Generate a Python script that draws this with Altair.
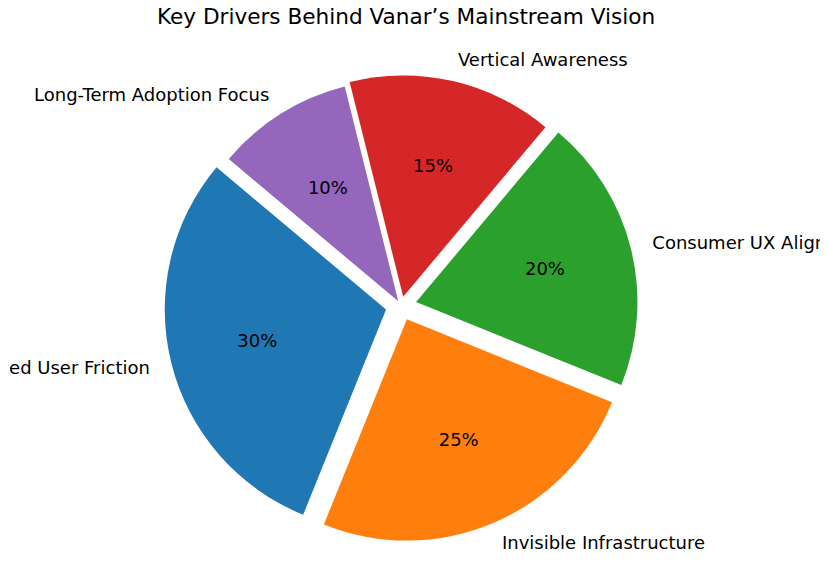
import altair as alt
import pandas as pd

labels = ["Reduced User Friction", "Invisible Infrastructure", "Consumer UX Alignment",
          "Vertical Awareness", "Long-Term Adoption Focus"]
values = [30, 25, 20, 15, 10]
colors = ["#1f77b4", "#ff7f0e", "#2ca02c", "#d62728", "#9467bd"]
order = [0, 1, 2, 3, 4]

# style: how far each slice is pulled out (fraction of radius)
explode = [0.07, 0.066, 0.07, 0.042, 0.024]

df = pd.DataFrame({"label": labels, "value": values, "order": order, "expl": explode})

# layout parameters (pixels in plot area)
CX, CY, R = 393.1, 257.8, 221.3
START = 140  # start angle (deg, ccw from east)

base = alt.Chart(df).transform_joinaggregate(
    total="sum(value)"
).transform_window(
    cum="sum(value)", sort=[alt.SortField("order")], frame=[None, 0]
).transform_calculate(
    t1=f"{START} + 360*(datum.cum - datum.value)/datum.total",
    t2=f"{START} + 360*datum.cum/datum.total",
).transform_calculate(
    tm="(datum.t1 + datum.t2)/2 * PI/180",
    a0="(90 - datum.t2) * PI/180",
    a1="(90 - datum.t1) * PI/180",
).transform_calculate(
    ox=f"{CX} + datum.expl*{R}*cos(datum.tm)",
    oy=f"{CY} - datum.expl*{R}*sin(datum.tm)",
).transform_calculate(
    lx=f"datum.ox + {1.1*R}*cos(datum.tm)",
    ly=f"datum.oy - {1.1*R}*sin(datum.tm) + 1",
    px=f"datum.ox + {0.6*R}*cos(datum.tm)",
    py=f"datum.oy - {0.6*R}*sin(datum.tm)",
    pct="format(datum.value/datum.total*100, '.0f') + '%'",
    right="cos(datum.tm) > 0",
)

arcs = base.mark_arc(radius=R).encode(
    x=alt.X("ox:Q", scale=None),
    y=alt.Y("oy:Q", scale=None),
    theta=alt.Theta("a0:Q", scale=None),
    theta2="a1:Q",
    color=alt.Color("label:N", scale=alt.Scale(domain=labels, range=colors), legend=None),
)

pct = base.mark_text(font="DejaVu Sans", fontSize=18, color="black",
                     align="center", baseline="middle").encode(
    x=alt.X("px:Q", scale=None),
    y=alt.Y("py:Q", scale=None),
    text="pct:N",
)

lab_r = base.transform_filter("datum.right").mark_text(
    font="DejaVu Sans", fontSize=18, color="black", align="left", baseline="middle"
).encode(x=alt.X("lx:Q", scale=None), y=alt.Y("ly:Q", scale=None), text="label:N")

lab_l = base.transform_filter("!datum.right").mark_text(
    font="DejaVu Sans", fontSize=18, color="black", align="right", baseline="middle"
).encode(x=alt.X("lx:Q", scale=None), y=alt.Y("ly:Q", scale=None), text="label:N")

chart = alt.layer(arcs, pct, lab_r, lab_l).properties(
    width=812, height=518,
    padding={"left": 0, "top": 40, "right": 0, "bottom": 0},
    autosize=alt.AutoSizeParams(type="none"),
    title=alt.TitleParams("Key Drivers Behind Vanar’s Mainstream Vision",
                          font="DejaVu Sans", fontSize=21.6, fontWeight="normal",
                          color="black", anchor="middle", offset=19, dx=-8),
).configure_view(stroke=None)

chart.save("out.html", embed_options={"renderer": "svg", "actions": False})
